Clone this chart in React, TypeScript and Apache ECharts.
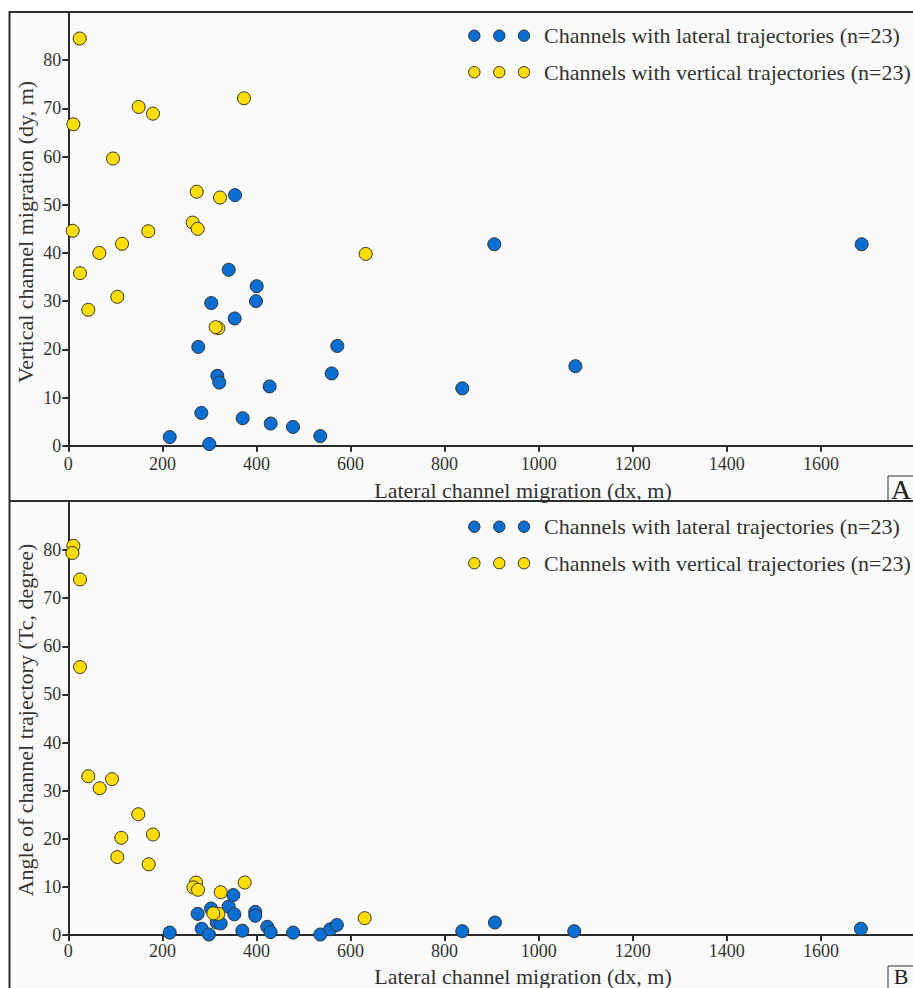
import React, { useEffect, useRef } from "react";
import * as echarts from "echarts";

// ---- Data ----
const xTickValues = [0, 200, 400, 600, 800, 1000, 1200, 1400, 1600];
const yTickValues = [0, 10, 20, 30, 40, 50, 60, 70, 80];

// Panel A: lateral migration (dx) vs vertical migration (dy)
const lateralA_dx = [354.4, 905.6, 1686.6, 341, 400.5, 399, 304, 353.7, 276.4, 571.9, 560, 316.8, 321, 428, 282.8, 370.7, 430.3, 477.7, 535.7, 215.6, 299.8, 837.6, 1078];
const lateralA_dy = [52.0, 41.8, 41.8, 36.5, 33.1, 30.0, 29.6, 26.4, 20.5, 20.7, 15.0, 14.5, 13.1, 12.3, 6.8, 5.7, 4.6, 3.9, 2.0, 1.8, 0.35, 11.9, 16.5];
const verticalA_dx = [24.2, 10.7, 149.6, 180, 373.5, 95, 273, 322.5, 264.4, 275, 9.3, 170, 114.2, 66, 24.9, 104.2, 42.5, 319, 313.3, 632.2];
const verticalA_dy = [84.5, 66.7, 70.3, 68.9, 72.1, 59.6, 52.7, 51.5, 46.3, 45.0, 44.6, 44.5, 41.9, 40.0, 35.8, 30.9, 28.2, 24.4, 24.6, 39.8];

// Panel B: lateral migration (dx) vs trajectory angle (Tc)
const lateralB_dx = [215.6, 275, 283.6, 299, 303.4, 315.5, 324, 341, 350.8, 353, 370, 397.5, 397.5, 423, 430, 478, 535.7, 557, 571, 837.6, 907, 1075.6, 1685];
const lateralB_tc = [0.5, 4.4, 1.3, 0.1, 5.5, 2.6, 2.4, 5.9, 8.3, 4.3, 0.9, 4.8, 4.0, 1.7, 0.6, 0.5, 0.1, 1.2, 2.1, 0.8, 2.6, 0.8, 1.3];
const verticalB_dx = [10.7, 8.6, 24.9, 24.9, 42.5, 92.9, 66.7, 148.8, 180, 112.7, 104.2, 170.9, 271.5, 375, 265.9, 275.7, 324, 319, 308.3, 630];
const verticalB_tc = [80.9, 79.4, 73.9, 55.7, 33.0, 32.4, 30.5, 25.1, 20.9, 20.2, 16.2, 14.7, 10.9, 10.9, 9.9, 9.4, 8.9, 4.4, 4.5, 3.5];

const legendLabels = [
  "Channels with lateral trajectories (n=23)",
  "Channels with vertical trajectories (n=23)",
];
const xAxisTitle = "Lateral channel migration (dx, m)";
const yAxisTitleA = "Vertical channel migration (dy, m)";
const yAxisTitleB = "Angle of channel trajectory (Tc, degree)";

const BLUE = "#0a6fd0";
const YELLOW = "#ffdd00";
const INK = "#2b2b2b";
const FONT = "'Liberation Serif', serif";

const zip = (xs: number[], ys: number[]) => xs.map((x, i) => [x, ys[i]]);

export default function App() {
  const ref = useRef<HTMLDivElement>(null);

  useEffect(() => {
    if (!ref.current) return;
    const chart = echarts.init(ref.current, null, { renderer: "svg" });

    const xAxisBase = (gridIndex: number) => ({
      type: "value",
      gridIndex,
      min: 0,
      max: 1800,
      interval: 200,
      splitLine: { show: false },
      axisLine: { show: true, onZero: false, lineStyle: { color: INK, width: 2 } },
      axisTick: { show: true, inside: false, length: 6, customValues: xTickValues, lineStyle: { color: INK, width: 2 } },
      axisLabel: { show: false },
    });
    const yAxisBase = (gridIndex: number) => ({
      type: "value",
      gridIndex,
      min: 0,
      max: 90,
      interval: 10,
      splitLine: { show: false },
      axisLine: { show: true, onZero: false, lineStyle: { color: INK, width: 2 } },
      axisTick: { show: true, inside: false, length: 6, customValues: yTickValues, lineStyle: { color: INK, width: 2 } },
      axisLabel: { show: false },
    });

    const symbolStyle = (color: string) => ({
      color,
      borderColor: "#333",
      borderWidth: 1,
      opacity: 1,
    });

    const legendGraphics = (y0: number) => {
      const els: any[] = [];
      const colors = [BLUE, YELLOW];
      [0, 1].forEach((row) => {
        const cy = y0 + row * 36.5;
        [474.3, 499.3, 524].forEach((cx) => {
          els.push({
            type: "circle",
            shape: { cx, cy, r: 5.7 },
            style: { fill: colors[row], stroke: "#333", lineWidth: 1 },
            z: 20,
          });
        });
        els.push({
          type: "text",
          x: 544,
          y: cy,
          style: {
            text: legendLabels[row],
            fill: "#333",
            font: `22px ${FONT}`,
            textAlign: "left",
            textVerticalAlign: "middle",
          },
          z: 20,
        });
      });
      return els;
    };

    const panelLabel = (letter: string, y: number, cyOff: number, size: number) => [
      {
        type: "rect",
        shape: { x: 888, y, width: 30, height: 25 },
        style: { fill: "transparent", stroke: "#333", lineWidth: 1 },
        z: 20,
      },
      {
        type: "text",
        x: 901,
        y: y + cyOff,
        style: { text: letter, fill: "#222", font: `${size}px ${FONT}`, textAlign: "center", textVerticalAlign: "middle" },
        z: 20,
      },
    ];

    const baseElements: any[] = [
      {
        type: "rect",
        shape: { x: 9.5, y: 12, width: 912, height: 990 },
        style: { fill: "#fafafa", stroke: INK, lineWidth: 2 },
        z: -100,
        silent: true,
      },
      {
        type: "line",
        shape: { x1: 9.5, y1: 501, x2: 913, y2: 501 },
        style: { stroke: INK, lineWidth: 2 },
        z: 10,
      },
      {
        type: "text",
        x: 523,
        y: 490,
        style: { text: xAxisTitle, fill: "#333", font: `22px ${FONT}`, textAlign: "center", textVerticalAlign: "middle" },
        z: 20,
      },
      {
        type: "text",
        x: 523,
        y: 976,
        style: { text: xAxisTitle, fill: "#333", font: `22px ${FONT}`, textAlign: "center", textVerticalAlign: "middle" },
        z: 20,
      },
      {
        type: "text",
        x: 25,
        y: 232,
        rotation: Math.PI / 2,
        style: { text: yAxisTitleA, fill: "#333", font: `22px ${FONT}`, textAlign: "center", textVerticalAlign: "middle" },
        z: 20,
      },
      {
        type: "text",
        x: 25,
        y: 720,
        rotation: Math.PI / 2,
        style: { text: yAxisTitleB, fill: "#333", font: `22px ${FONT}`, textAlign: "center", textVerticalAlign: "middle" },
        z: 20,
      },
      ...legendGraphics(35.7),
      ...legendGraphics(526.7),
      ...panelLabel("A", 476, 13, 28),
      ...panelLabel("B", 966, 10.5, 22),
    ];

    const option: any = {
      animation: false,
      backgroundColor: "#ffffff",
      textStyle: { fontFamily: FONT },
      grid: [
        { left: 68.3, top: 12, width: 846.7, height: 433.7, containLabel: false, outerBoundsMode: "none" },
        { left: 68.3, top: 502, width: 846.7, height: 433, containLabel: false, outerBoundsMode: "none" },
      ],
      xAxis: [xAxisBase(0), xAxisBase(1)],
      yAxis: [yAxisBase(0), yAxisBase(1)],
      series: [
        {
          name: legendLabels[0],
          type: "scatter",
          xAxisIndex: 0,
          yAxisIndex: 0,
          symbol: "circle",
          symbolSize: 13,
          itemStyle: symbolStyle(BLUE),
          data: zip(lateralA_dx, lateralA_dy),
          z: 3,
        },
        {
          name: legendLabels[1],
          type: "scatter",
          xAxisIndex: 0,
          yAxisIndex: 0,
          symbol: "circle",
          symbolSize: 13,
          itemStyle: symbolStyle(YELLOW),
          data: zip(verticalA_dx, verticalA_dy),
          z: 4,
        },
        {
          name: legendLabels[0] + " B",
          type: "scatter",
          xAxisIndex: 1,
          yAxisIndex: 1,
          symbol: "circle",
          symbolSize: 13,
          itemStyle: symbolStyle(BLUE),
          data: zip(lateralB_dx, lateralB_tc),
          z: 3,
        },
        {
          name: legendLabels[1] + " B",
          type: "scatter",
          xAxisIndex: 1,
          yAxisIndex: 1,
          symbol: "circle",
          symbolSize: 13,
          itemStyle: symbolStyle(YELLOW),
          data: zip(verticalB_dx, verticalB_tc),
          z: 4,
        },
      ],
      graphic: { elements: baseElements },
    };

    chart.setOption(option);

    // Tick labels placed through the axes' own scales (serif font)
    const tickLabelEls: any[] = [];
    const xLabelOffset = [18, 15.5];
    [0, 1].forEach((g) => {
      xTickValues.forEach((v) => {
        const p = chart.convertToPixel({ xAxisIndex: g, yAxisIndex: g } as any, [v, 0]) as number[];
        tickLabelEls.push({
          type: "text",
          x: p[0],
          y: p[1] + xLabelOffset[g],
          style: { text: String(v), fill: "#333", font: `18px ${FONT}`, textAlign: "center", textVerticalAlign: "middle" },
          z: 20,
        });
      });
      yTickValues.forEach((v) => {
        const p = chart.convertToPixel({ xAxisIndex: g, yAxisIndex: g } as any, [0, v]) as number[];
        tickLabelEls.push({
          type: "text",
          x: p[0] - 7,
          y: p[1],
          style: { text: String(v), fill: "#333", font: `18px ${FONT}`, textAlign: "right", textVerticalAlign: "middle" },
          z: 20,
        });
      });
    });

    chart.setOption({ graphic: { elements: [...baseElements, ...tickLabelEls] } });

    return () => chart.dispose();
  }, []);

  return (
    <div
      ref={ref}
      style={{ position: "fixed", left: 0, top: 0, width: 913, height: 988 }}
    />
  );
}
